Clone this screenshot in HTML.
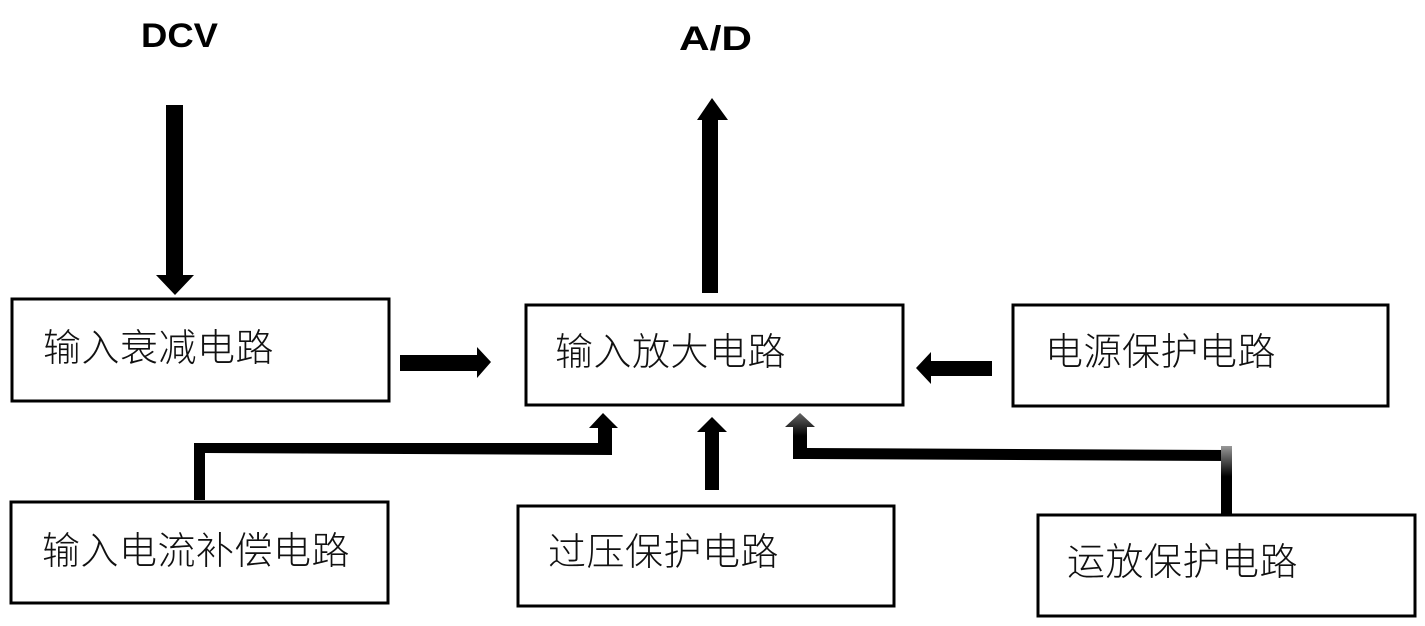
<!DOCTYPE html>
<html><head><meta charset="utf-8"><style>
html,body{margin:0;padding:0;background:#fff;}
svg{display:block}
.t{font-family:"Liberation Sans","Noto Sans CJK SC",sans-serif;font-size:38px;font-weight:300;fill:#111;letter-spacing:0.5px}
.b{font-family:"Liberation Sans",sans-serif;font-size:34px;font-weight:bold;fill:#000}
</style></head><body>
<svg width="1425" height="626" viewBox="0 0 1425 626">
<defs>
<linearGradient id="g1" x1="0" y1="0" x2="0" y2="1"><stop offset="0" stop-color="#666"/><stop offset="0.5" stop-color="#000"/><stop offset="1" stop-color="#000"/></linearGradient>
<linearGradient id="g2" x1="0" y1="0" x2="0" y2="1"><stop offset="0" stop-color="#999"/><stop offset="0.45" stop-color="#000"/><stop offset="1" stop-color="#000"/></linearGradient>
</defs>
<text class="b" x="141" y="47" textLength="77" lengthAdjust="spacingAndGlyphs">DCV</text>
<text class="b" x="679" y="50" textLength="73" lengthAdjust="spacingAndGlyphs">A/D</text>
<g fill="none" stroke="#000" stroke-width="3">
<rect x="12" y="299" width="377" height="102"/>
<rect x="526" y="305" width="377" height="100"/>
<rect x="1013" y="305" width="375" height="101"/>
<rect x="11" y="502" width="377" height="101"/>
<rect x="518" y="506" width="376" height="100"/>
<rect x="1038" y="515" width="377" height="101"/>
</g>
<text class="t" x="43" y="361">输入衰减电路</text>
<text class="t" x="555" y="365">输入放大电路</text>
<text class="t" x="1045" y="365">电源保护电路</text>
<text class="t" x="42" y="564">输入电流补偿电路</text>
<text class="t" x="548" y="565">过压保护电路</text>
<text class="t" x="1067" y="575">运放保护电路</text>
<g fill="#000">
<polygon points="166,105 183,105 183,275 194,275 175,295 156,275 166,275"/>
<polygon points="702,293 718,293 718,120 728,120 712,98 697,120 702,120"/>
<polygon points="400,355 477,355 477,347 491,362 477,378 477,371 400,371"/>
<polygon points="992,361 931,361 931,352 916,368 931,384 931,376 992,376"/>
<polygon points="194,500 205,500 205,453 612,455 612,428 618,428 603,413 589,428 598,428 598,443 194,443"/>
<polygon points="705,490 719,490 719,432 727,432 712,417 697,432 705,432"/>
<polygon points="793,459 807,459 807,427 815,427 800,413 785,427 793,427" fill="url(#g1)"/>
<polygon points="807,448 1228,450 1228,461 807,459" fill="#000"/>
<rect x="1221" y="446" width="11" height="68" fill="url(#g2)"/>
</g>
</svg>
</body></html>
